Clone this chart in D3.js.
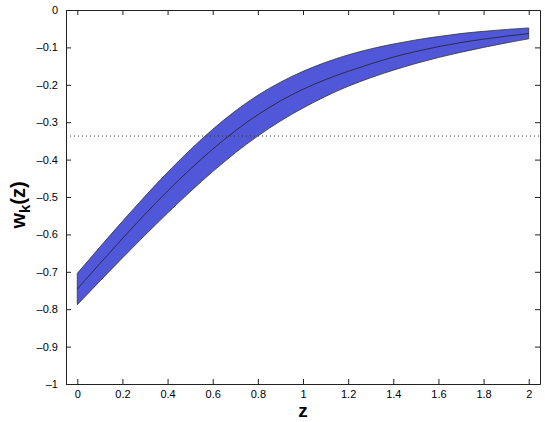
<!DOCTYPE html>
<html>
<head>
<meta charset="utf-8">
<script src="https://cdn.jsdelivr.net/npm/d3@7"></script>
<style>
  body { margin: 0; background: #fff; }
  svg { display: block; font-family: "Liberation Sans", Arial, sans-serif; }
  .tick text { font-size: 11px; fill: #000; }
</style>
</head>
<body>
<svg class="band-chart" width="545" height="422"></svg>
<script>
// values
const zValues = [0, 0.1, 0.2, 0.3, 0.4, 0.5, 0.6, 0.7, 0.8, 0.9, 1.0,
                 1.1, 1.2, 1.3, 1.4, 1.5, 1.6, 1.7, 1.8, 1.9, 2.0];
const wCenter = [-0.746, -0.678, -0.611, -0.546, -0.484, -0.426, -0.372, -0.323, -0.280, -0.243, -0.212,
                 -0.186, -0.164, -0.144, -0.126, -0.111, -0.098, -0.087, -0.078, -0.070, -0.063];
const wUpper = [-0.704, -0.634, -0.565, -0.498, -0.434, -0.374, -0.319, -0.270, -0.228, -0.193, -0.164,
                -0.140, -0.120, -0.104, -0.091, -0.080, -0.071, -0.063, -0.057, -0.052, -0.048];
const wLower = [-0.788, -0.725, -0.663, -0.602, -0.543, -0.486, -0.432, -0.382, -0.337, -0.297, -0.262,
                -0.231, -0.204, -0.181, -0.161, -0.143, -0.127, -0.113, -0.100, -0.088, -0.077];
const refLevel = -0.337;
const xTicks = [0, 0.2, 0.4, 0.6, 0.8, 1, 1.2, 1.4, 1.6, 1.8, 2];
const yTicks = [0, -0.1, -0.2, -0.3, -0.4, -0.5, -0.6, -0.7, -0.8, -0.9, -1];

function drawBandChart() {
    const svg = d3.select("svg.band-chart");
    const margin = {top: 10, right: 5, bottom: 38, left: 66};
    const width = +svg.attr("width") - margin.left - margin.right;
    const height = +svg.attr("height") - margin.top - margin.bottom;
    const g = svg.append("g").attr("transform", `translate(${margin.left}, ${margin.top})`);

    const x = d3.scaleLinear().domain([-0.05, 2.05]).range([0, width]);
    const y = d3.scaleLinear().domain([-1, 0]).range([height, 0]);

    const data = zValues.map((z, i) => ({z: z, c: wCenter[i], hi: wUpper[i], lo: wLower[i]}));

    const fmt = d => d === 0 ? "0" : (d < 0 ? "\u2013" + d3.format("")(-d) : d3.format("")(d));

    const area = d3.area()
        .curve(d3.curveMonotoneX)
        .x(d => x(d.z))
        .y0(d => y(d.lo))
        .y1(d => y(d.hi));

    const line = d3.line()
        .curve(d3.curveMonotoneX)
        .x(d => x(d.z))
        .y(d => y(d.c));

    g.append("path")
        .datum(data)
        .attr("d", area)
        .attr("fill", "#5057d8")
        .attr("stroke", "#333")
        .attr("stroke-width", 0.8);

    g.append("path")
        .datum(data)
        .attr("d", line)
        .attr("fill", "none")
        .attr("stroke", "#222")
        .attr("stroke-width", 0.8);

    // dotted reference level
    g.append("line")
        .attr("x1", 0).attr("x2", width)
        .attr("y1", y(refLevel)).attr("y2", y(refLevel))
        .attr("stroke", "#333")
        .attr("stroke-width", 1)
        .attr("stroke-dasharray", "1,3");

    // axes, MATLAB-style box with inward ticks
    g.append("g")
        .attr("transform", `translate(0, ${height})`)
        .call(d3.axisBottom(x).tickValues(xTicks).tickSizeInner(-5).tickSizeOuter(0).tickPadding(6).tickFormat(fmt));
    g.append("g")
        .call(d3.axisTop(x).tickValues(xTicks).tickSizeInner(-5).tickSizeOuter(0).tickFormat(""));
    g.append("g")
        .call(d3.axisLeft(y).tickValues(yTicks).tickSizeInner(-5).tickSizeOuter(0).tickPadding(8).tickFormat(fmt));
    g.append("g")
        .attr("transform", `translate(${width}, 0)`)
        .call(d3.axisRight(y).tickValues(yTicks).tickSizeInner(-5).tickSizeOuter(0).tickFormat(""));

    g.selectAll(".domain").attr("stroke", "#222");
    g.selectAll(".tick line").attr("stroke", "#222");

    // axis labels
    svg.append("text")
        .attr("x", margin.left + x(1))
        .attr("y", 417)
        .attr("text-anchor", "middle")
        .attr("font-size", 19)
        .attr("font-weight", "bold")
        .text("z");

    const yl = svg.append("text")
        .attr("transform", `translate(25, 205) rotate(-90)`)
        .attr("text-anchor", "middle")
        .attr("font-size", 20)
        .attr("font-weight", "bold");
    yl.append("tspan").text("w");
    yl.append("tspan").attr("font-size", 15).attr("dy", 5).text("k");
    yl.append("tspan").attr("dy", -5).text("(z)");
}

drawBandChart();
</script>
</body>
</html>
